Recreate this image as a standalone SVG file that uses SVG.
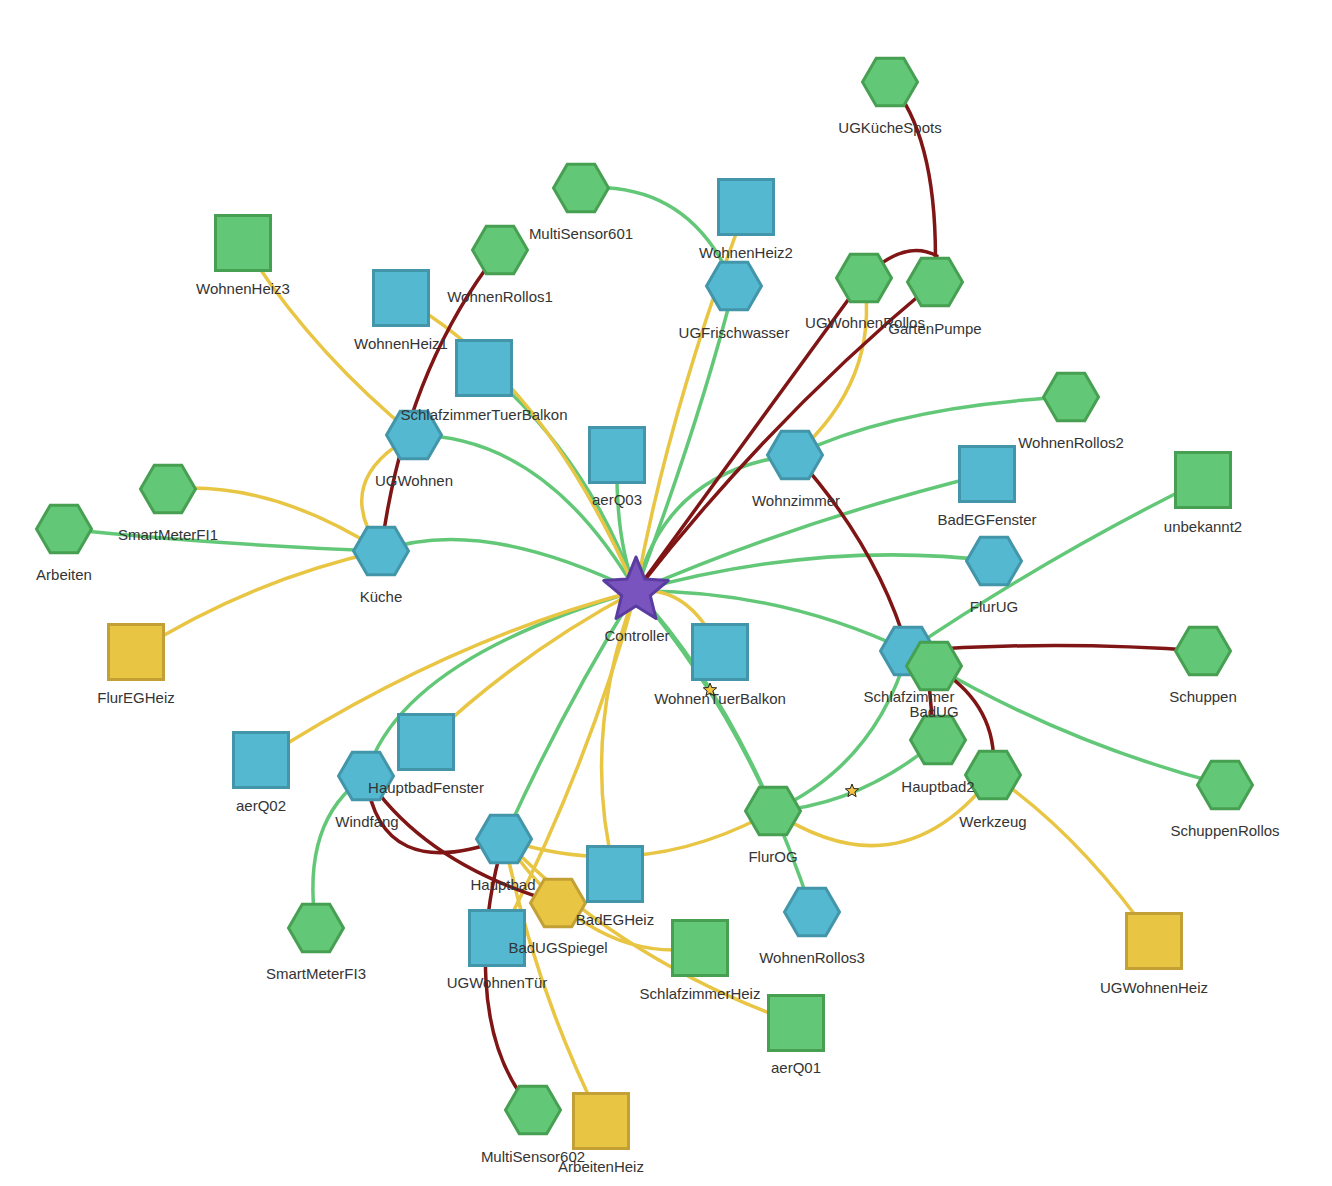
<svg xmlns="http://www.w3.org/2000/svg" xmlns:xlink="http://www.w3.org/1999/xlink" width="1332" height="1186" viewBox="0 0 1332 1186">
<style>
.e{fill:none;stroke-width:3.5;stroke-linecap:round}
.g{stroke:#62c878}
.y{stroke:#e8c543}
.r{stroke:#801515}
.ng{fill:#62c878;stroke:#47a052;stroke-width:3}
.nb{fill:#53b8d0;stroke:#4396aa;stroke-width:3}
.ny{fill:#e8c543;stroke:#c3a036;stroke-width:3}
.np{fill:#7a54be;stroke:#5a3ca0;stroke-width:3;stroke-linejoin:round}
.ms{fill:#f5c342;stroke:#222;stroke-width:1}
text{font-family:"Liberation Sans",Arial,sans-serif;font-size:15px;fill:#343434;text-anchor:middle}
</style>
<defs>
<polygon id="hx" points="27.5,0 13.75,23.8 -13.75,23.8 -27.5,0 -13.75,-23.8 13.75,-23.8"/>
<polygon id="sm" points="0,-7 1.76,-2.43 6.66,-2.16 2.85,0.93 4.11,5.66 0,3 -4.11,5.66 -2.85,0.93 -6.66,-2.16 -1.76,-2.43"/>
</defs>
<rect width="1332" height="1186" fill="#ffffff"/>
<g id="connectors">
<path class="e g" d="M636,591 Q700,420 734,286"/>
<path class="e g" d="M581,188 Q690,180 734,286"/>
<path class="e g" d="M636,591 Q665,470 795,455 Q900,405 1071,397"/>
<path class="e g" d="M636,591 Q800,520 987,474"/>
<path class="e g" d="M636,591 Q820,540 994,561"/>
<path class="e g" d="M636,591 Q780,590 908,651"/>
<path class="e g" d="M908,651 Q1050,555 1203,480"/>
<path class="e g" d="M934,666 Q1070,745 1225,785"/>
<path class="e g" d="M773,811 Q875,765 908,651"/>
<path class="e g" d="M773,811 Q860,805 938,740"/>
<path class="e g" d="M636,591 Q720,690 773,811"/>
<path class="e g" d="M636,591 Q745,710 812,912"/>
<path class="e g" d="M636,591 Q560,714 504,839"/>
<path class="e g" d="M636,591 Q399,660 366,776"/>
<path class="e g" d="M366,776 Q300,820 316,928"/>
<path class="e g" d="M636,591 Q545,436 414,435"/>
<path class="e g" d="M636,591 Q480,515 381,551"/>
<path class="e g" d="M64,529 Q220,545 381,551"/>
<path class="e g" d="M484,368 Q590,460 636,591"/>
<path class="e g" d="M617,455 Q615,540 636,591"/>
<path class="e y" d="M746,207 Q669,410 636,591"/>
<path class="e y" d="M864,278 Q880,380 795,455"/>
<path class="e y" d="M636,591 Q690,585 720,652"/>
<path class="e y" d="M636,591 Q580,737 615,874"/>
<path class="e y" d="M636,591 Q589,765 500,938"/>
<path class="e y" d="M636,591 Q519,653 426,742"/>
<path class="e y" d="M636,591 Q447,640 261,760"/>
<path class="e y" d="M401,298 Q541,375 636,591"/>
<path class="e y" d="M243,243 Q310,350 414,435"/>
<path class="e y" d="M414,435 Q330,480 381,551"/>
<path class="e y" d="M168,489 Q270,480 381,551"/>
<path class="e y" d="M136,652 Q250,580 381,551"/>
<path class="e y" d="M504,839 Q640,885 773,811"/>
<path class="e y" d="M504,839 Q535,990 601,1121"/>
<path class="e y" d="M504,839 Q590,965 700,948"/>
<path class="e y" d="M504,839 Q620,960 796,1023"/>
<path class="e y" d="M773,811 Q900,895 993,775"/>
<path class="e y" d="M993,775 Q1080,835 1154,941"/>
<path class="e r" d="M890,82 Q940,140 935,282"/>
<path class="e r" d="M864,278 Q905,238 937,256"/>
<path class="e r" d="M864,278 L636,591"/>
<path class="e r" d="M935,282 Q770,419 636,591"/>
<path class="e r" d="M795,455 Q878,547 908,651"/>
<path class="e r" d="M928,672 L934,740"/>
<path class="e r" d="M908,651 Q1055,640 1203,651"/>
<path class="e r" d="M934,666 Q1000,705 993,775"/>
<path class="e r" d="M500,250 Q405,370 381,551"/>
<path class="e r" d="M366,776 Q380,885 504,839"/>
<path class="e r" d="M366,776 Q425,865 558,903"/>
<path class="e r" d="M504,839 C480,920 470,1040 533,1110"/>
</g>
<g id="n-UGKuecheSpots"><use href="#hx" x="890" y="82" class="ng"/><text x="890" y="133">UGKücheSpots</text></g>
<g id="n-MultiSensor601"><use href="#hx" x="581" y="188" class="ng"/><text x="581" y="239">MultiSensor601</text></g>
<g id="n-WohnenRollos1"><use href="#hx" x="500" y="250" class="ng"/><text x="500" y="302">WohnenRollos1</text></g>
<g id="n-WohnenHeiz3"><rect class="ng" x="215.5" y="215.5" width="55" height="55"/><text x="243" y="294">WohnenHeiz3</text></g>
<g id="n-WohnenHeiz1"><rect class="nb" x="373.5" y="270.5" width="55" height="55"/><text x="401" y="349">WohnenHeiz1</text></g>
<g id="n-UGWohnen"><use href="#hx" x="414" y="435" class="nb"/><text x="414" y="486">UGWohnen</text></g>
<g id="n-SchlafzimmerTuerBalkon"><rect class="nb" x="456.5" y="340.5" width="55" height="55"/><text x="484" y="420">SchlafzimmerTuerBalkon</text></g>
<g id="n-aerQ03"><rect class="nb" x="589.5" y="427.5" width="55" height="55"/><text x="617" y="505">aerQ03</text></g>
<g id="n-UGFrischwasser"><use href="#hx" x="734" y="286" class="nb"/><text x="734" y="338">UGFrischwasser</text></g>
<g id="n-WohnenHeiz2"><rect class="nb" x="718.5" y="179.5" width="55" height="55"/><text x="746" y="258">WohnenHeiz2</text></g>
<g id="n-GartenPumpe"><use href="#hx" x="935" y="282" class="ng"/><text x="935" y="334">GartenPumpe</text></g>
<g id="n-UGWohnenRollos"><use href="#hx" x="864" y="278" class="ng"/><text x="865" y="328">UGWohnenRollos</text></g>
<g id="n-WohnenRollos2"><use href="#hx" x="1071" y="397" class="ng"/><text x="1071" y="448">WohnenRollos2</text></g>
<g id="n-Wohnzimmer"><use href="#hx" x="795" y="455" class="nb"/><text x="796" y="506">Wohnzimmer</text></g>
<g id="n-BadEGFenster"><rect class="nb" x="959.5" y="446.5" width="55" height="55"/><text x="987" y="525">BadEGFenster</text></g>
<g id="n-unbekannt2"><rect class="ng" x="1175.5" y="452.5" width="55" height="55"/><text x="1203" y="532">unbekannt2</text></g>
<g id="n-FlurUG"><use href="#hx" x="994" y="561" class="nb"/><text x="994" y="612">FlurUG</text></g>
<g id="n-Kueche"><use href="#hx" x="381" y="551" class="nb"/><text x="381" y="602">Küche</text></g>
<g id="n-SmartMeterFI1"><use href="#hx" x="168" y="489" class="ng"/><text x="168" y="540">SmartMeterFI1</text></g>
<g id="n-Arbeiten"><use href="#hx" x="64" y="529" class="ng"/><text x="64" y="580">Arbeiten</text></g>
<g id="n-FlurEGHeiz"><rect class="ny" x="108.5" y="624.5" width="55" height="55"/><text x="136" y="703">FlurEGHeiz</text></g>
<g id="n-WohnenTuerBalkon"><rect class="nb" x="692.5" y="624.5" width="55" height="55"/><text x="720" y="704">WohnenTuerBalkon</text></g>
<g id="n-Werkzeug"><use href="#hx" x="993" y="775" class="ng"/><text x="993" y="827">Werkzeug</text></g>
<g id="n-Schlafzimmer"><use href="#hx" x="908" y="651" class="nb"/><text x="909" y="702">Schlafzimmer</text></g>
<g id="n-Hauptbad2"><use href="#hx" x="938" y="740" class="ng"/><text x="938" y="792">Hauptbad2</text></g>
<g id="n-BadUG"><use href="#hx" x="934" y="666" class="ng"/><text x="934" y="717">BadUG</text></g>
<g id="n-FlurOG"><use href="#hx" x="773" y="811" class="ng"/><text x="773" y="862">FlurOG</text></g>
<g id="n-Schuppen"><use href="#hx" x="1203" y="651" class="ng"/><text x="1203" y="702">Schuppen</text></g>
<g id="n-SchuppenRollos"><use href="#hx" x="1225" y="785" class="ng"/><text x="1225" y="836">SchuppenRollos</text></g>
<g id="n-UGWohnenHeiz"><rect class="ny" x="1126.5" y="913.5" width="55" height="55"/><text x="1154" y="993">UGWohnenHeiz</text></g>
<g id="n-WohnenRollos3"><use href="#hx" x="812" y="912" class="nb"/><text x="812" y="963">WohnenRollos3</text></g>
<g id="n-aerQ01"><rect class="ng" x="768.5" y="995.5" width="55" height="55"/><text x="796" y="1073">aerQ01</text></g>
<g id="n-SchlafzimmerHeiz"><rect class="ng" x="672.5" y="920.5" width="55" height="55"/><text x="700" y="999">SchlafzimmerHeiz</text></g>
<g id="n-aerQ02"><rect class="nb" x="233.5" y="732.5" width="55" height="55"/><text x="261" y="811">aerQ02</text></g>
<g id="n-SmartMeterFI3"><use href="#hx" x="316" y="928" class="ng"/><text x="316" y="979">SmartMeterFI3</text></g>
<g id="n-Windfang"><use href="#hx" x="366" y="776" class="nb"/><text x="367" y="827">Windfang</text></g>
<g id="n-HauptbadFenster"><rect class="nb" x="398.5" y="714.5" width="55" height="55"/><text x="426" y="793">HauptbadFenster</text></g>
<g id="n-Hauptbad"><use href="#hx" x="504" y="839" class="nb"/><text x="503" y="890">Hauptbad</text></g>
<g id="n-UGWohnenTuer"><rect class="nb" x="469.5" y="910.5" width="55" height="55"/><text x="497" y="988">UGWohnenTür</text></g>
<g id="n-BadUGSpiegel"><use href="#hx" x="558" y="903" class="ny"/><text x="558" y="953">BadUGSpiegel</text></g>
<g id="n-BadEGHeiz"><rect class="nb" x="587.5" y="846.5" width="55" height="55"/><text x="615" y="925">BadEGHeiz</text></g>
<g id="n-ArbeitenHeiz"><rect class="ny" x="573.5" y="1093.5" width="55" height="55"/><text x="601" y="1172">ArbeitenHeiz</text></g>
<g id="n-MultiSensor602"><use href="#hx" x="533" y="1110" class="ng"/><text x="533" y="1162">MultiSensor602</text></g>
<g id="n-Controller"><polygon class="np" points="636,557 644.8,578.9 668.3,580.5 650.3,595.6 656,618.5 636,606 616,618.5 621.7,595.6 603.7,580.5 627.2,578.9"/><text x="637" y="641">Controller</text></g>
<g id="edge-marks">
<use href="#sm" x="710" y="690" class="ms"/>
<use href="#sm" x="852" y="791" class="ms"/>
</g>
</svg>
